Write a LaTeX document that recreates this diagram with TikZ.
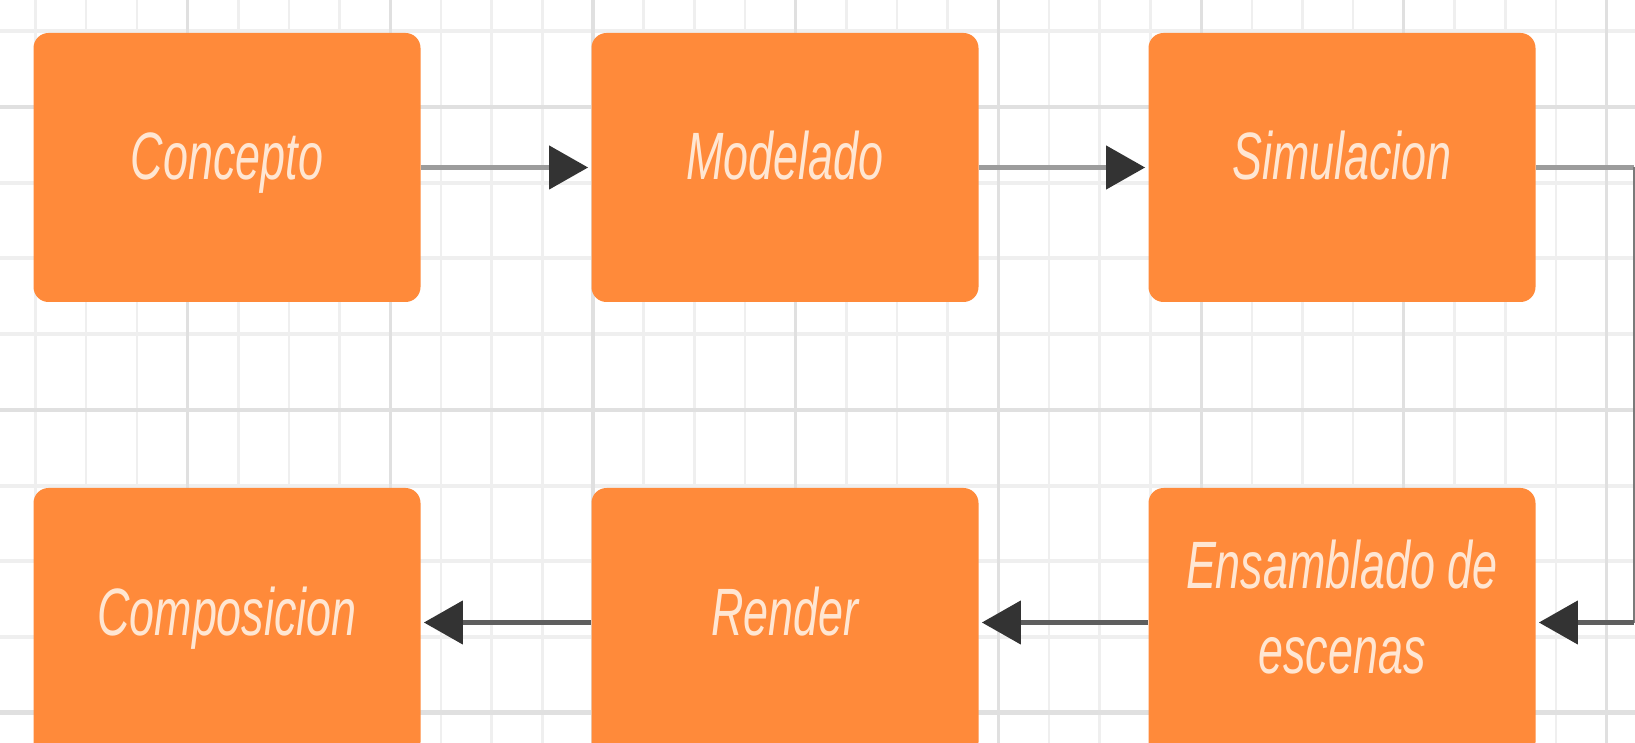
\documentclass[tikz,border=0pt]{standalone}
\usepackage{fontspec}
\usetikzlibrary{arrows.meta}
\newfontfamily\boxfont{Liberation Sans}[FakeStretch=0.67]
\definecolor{boxorange}{HTML}{FF8A3A}
\definecolor{boxtext}{HTML}{FFE6D2}
\definecolor{gridminor}{HTML}{EFEFEF}
\definecolor{gridmajor}{HTML}{E0E0E0}
\definecolor{tipc}{HTML}{333333}
\definecolor{linetop}{HTML}{9C9C9C}
\definecolor{linebot}{HTML}{5E5E5E}
\definecolor{linevert}{HTML}{7A7A7A}
\begin{document}
\begin{tikzpicture}[x=0.5pt,y=-0.5pt,
  stage/.style={rectangle, rounded corners=7.5pt, fill=boxorange, text=boxtext,
    minimum width=193.5pt, minimum height=134.5pt, inner sep=0pt,
    font=\boxfont\itshape\fontsize{33.5}{42.15}\selectfont, align=center,
    text height=25pt, text depth=12.5pt},
  stagetwo/.style={stage, text height=60pt, text depth=9.5pt},
  vmin/.style={draw=gridminor, line width=1.3pt},
  vmaj/.style={draw=gridmajor, line width=1.6pt},
  hmin/.style={draw=gridminor, line width=2pt},
  hmaj/.style={draw=gridmajor, line width=2.2pt},
  tiparrow/.style={-{Triangle[length=19.5pt,width=21.5pt,color=tipc]}, shorten >=1.5pt},
  topline/.style={draw=linetop, line width=2.25pt},
  botline/.style={draw=linebot, line width=2.25pt},
  vertline/.style={draw=linevert, line width=0.8pt}
]
\useasboundingbox (0,0) rectangle (1635,743);
\clip (0,0) rectangle (1635,743);
\fill[white] (0,0) rectangle (1635,743);
% grid: minor lines
\foreach \k in {0,...,31}{
  \pgfmathtruncatemacro\m{mod(\k,4)}
  \pgfmathsetmacro\xx{35.5+50.68*\k}
  \ifnum\m=3 \else \draw[vmin] (\xx,0) -- (\xx,743); \fi
}
\foreach \k in {0,...,9}{
  \pgfmathtruncatemacro\m{mod(\k,4)}
  \pgfmathsetmacro\yy{31.2+75.72*\k}
  \ifnum\m=1 \else \draw[hmin] (0,\yy) -- (1635,\yy); \fi
}
% grid: major lines
\foreach \k in {3,7,...,31}{
  \pgfmathsetmacro\xx{35.5+50.68*\k}
  \draw[vmaj] (\xx,0) -- (\xx,743);
}
\foreach \k in {1,5,9}{
  \pgfmathsetmacro\yy{31.2+75.72*\k}
  \draw[hmaj] (0,\yy) -- (1635,\yy);
}
% stages
\node[stage] (concepto) at (227,167.5) {Concepto};
\node[stage] (modelado) at (785,167.5) {Modelado};
\node[stage] (simulacion) at (1342,167.5) {Simulacion};
\node[stage] (composicion) at (227,622.5) {Composicion};
\node[stage] (render) at (785,622.5) {Render};
\node[stagetwo] (ensamblado) at (1342,622.5) {Ensamblado de\\escenas};
% connectors
\coordinate (cr1) at (1634,167.5);
\coordinate (cr2) at (1634,622.5);
\draw[topline, tiparrow] (concepto.east) -- (modelado.west);
\draw[topline, tiparrow] (modelado.east) -- (simulacion.west);
\draw[topline] (simulacion.east) -- (cr1);
\draw[vertline] (cr1) -- (cr2);
\draw[botline, tiparrow] (cr2) -- (ensamblado.east);
\draw[botline, tiparrow] (ensamblado.west) -- (render.east);
\draw[botline, tiparrow] (render.west) -- (composicion.east);
\end{tikzpicture}
\end{document}
